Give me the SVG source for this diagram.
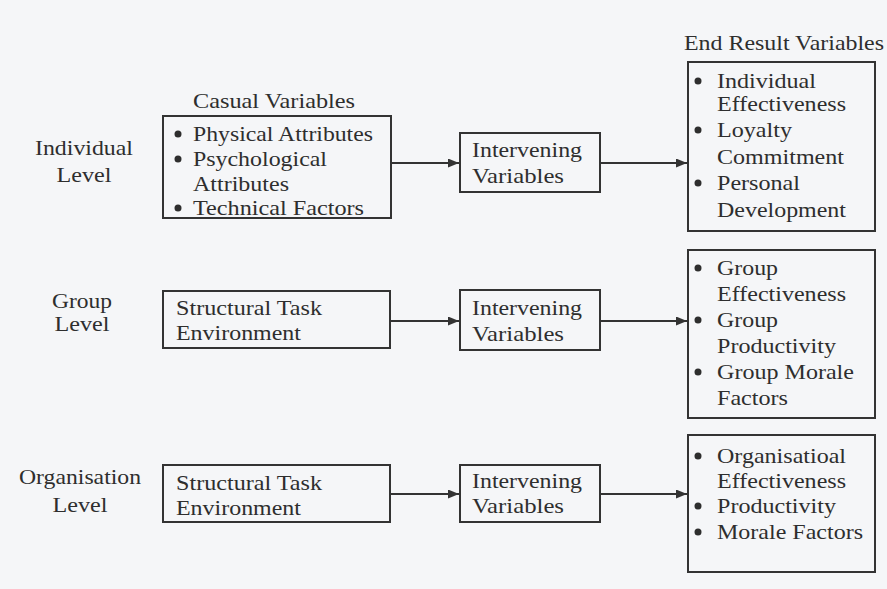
<svg xmlns="http://www.w3.org/2000/svg" width="887" height="589" viewBox="0 0 887 589">
<style>
.t{font-family:"Liberation Serif","Times New Roman",serif;font-size:21.5px;fill:#2e2e2e}
.m{text-anchor:middle}
.box{fill:none;stroke:#333;stroke-width:2}
.ln{stroke:#333;stroke-width:2;fill:none}
.b{fill:#2e2e2e}
</style>
<defs>
<marker id="ah" markerUnits="userSpaceOnUse" markerWidth="12" markerHeight="10" refX="11" refY="4.5" orient="auto">
<path d="M0,0 L11,4.5 L0,9 z" fill="#333"/>
</marker>
</defs>
<rect x="0" y="0" width="887" height="589" fill="#f5f6f8"/>

<g id="labels">
<text class="t m" x="84" y="155" textLength="98" lengthAdjust="spacingAndGlyphs">Individual</text>
<text class="t m" x="84" y="182" textLength="55" lengthAdjust="spacingAndGlyphs">Level</text>
<text class="t m" x="82" y="308" textLength="60" lengthAdjust="spacingAndGlyphs">Group</text>
<text class="t m" x="82" y="331" textLength="55" lengthAdjust="spacingAndGlyphs">Level</text>
<text class="t m" x="80" y="484" textLength="122" lengthAdjust="spacingAndGlyphs">Organisation</text>
<text class="t m" x="80" y="512" textLength="55" lengthAdjust="spacingAndGlyphs">Level</text>
<text class="t m" x="274" y="108" textLength="162" lengthAdjust="spacingAndGlyphs">Casual Variables</text>
<text class="t m" x="784" y="50" textLength="200" lengthAdjust="spacingAndGlyphs">End Result Variables</text>
</g>

<g id="casual1">
<rect class="box" x="163" y="116" width="228" height="102"/>
<circle class="b" cx="178" cy="134" r="3.5"/>
<text class="t" x="193" y="141" textLength="180" lengthAdjust="spacingAndGlyphs">Physical Attributes</text>
<circle class="b" cx="178" cy="159" r="3.5"/>
<text class="t" x="193" y="166" textLength="134" lengthAdjust="spacingAndGlyphs">Psychological</text>
<text class="t" x="193" y="191" textLength="96" lengthAdjust="spacingAndGlyphs">Attributes</text>
<circle class="b" cx="178" cy="208" r="3.5"/>
<text class="t" x="193" y="215" textLength="171" lengthAdjust="spacingAndGlyphs">Technical Factors</text>
</g>

<g id="interv1">
<rect class="box" x="460" y="133" width="140" height="59"/>
<text class="t" x="472" y="157" textLength="110" lengthAdjust="spacingAndGlyphs">Intervening</text>
<text class="t" x="472" y="183" textLength="92" lengthAdjust="spacingAndGlyphs">Variables</text>
</g>

<g id="end1">
<rect class="box" x="688" y="62" width="187" height="169"/>
<circle class="b" cx="698" cy="81" r="3.5"/>
<text class="t" x="717" y="88" textLength="99" lengthAdjust="spacingAndGlyphs">Individual</text>
<text class="t" x="717" y="111" textLength="129" lengthAdjust="spacingAndGlyphs">Effectiveness</text>
<circle class="b" cx="698" cy="130" r="3.5"/>
<text class="t" x="717" y="137" textLength="75" lengthAdjust="spacingAndGlyphs">Loyalty</text>
<text class="t" x="717" y="164" textLength="127" lengthAdjust="spacingAndGlyphs">Commitment</text>
<circle class="b" cx="698" cy="183" r="3.5"/>
<text class="t" x="717" y="190" textLength="83" lengthAdjust="spacingAndGlyphs">Personal</text>
<text class="t" x="717" y="217" textLength="129" lengthAdjust="spacingAndGlyphs">Development</text>
</g>

<g id="struct2">
<rect class="box" x="163" y="291" width="227" height="57"/>
<text class="t" x="176" y="315" textLength="146" lengthAdjust="spacingAndGlyphs">Structural Task</text>
<text class="t" x="176" y="340" textLength="125" lengthAdjust="spacingAndGlyphs">Environment</text>
</g>

<g id="interv2">
<rect class="box" x="460" y="290" width="140" height="60"/>
<text class="t" x="472" y="315" textLength="110" lengthAdjust="spacingAndGlyphs">Intervening</text>
<text class="t" x="472" y="341" textLength="92" lengthAdjust="spacingAndGlyphs">Variables</text>
</g>

<g id="end2">
<rect class="box" x="688" y="250" width="187" height="168"/>
<circle class="b" cx="698" cy="268" r="3.5"/>
<text class="t" x="717" y="275" textLength="61" lengthAdjust="spacingAndGlyphs">Group</text>
<text class="t" x="717" y="301" textLength="129" lengthAdjust="spacingAndGlyphs">Effectiveness</text>
<circle class="b" cx="698" cy="320" r="3.5"/>
<text class="t" x="717" y="327" textLength="61" lengthAdjust="spacingAndGlyphs">Group</text>
<text class="t" x="717" y="353" textLength="119" lengthAdjust="spacingAndGlyphs">Productivity</text>
<circle class="b" cx="698" cy="372" r="3.5"/>
<text class="t" x="717" y="379" textLength="137" lengthAdjust="spacingAndGlyphs">Group Morale</text>
<text class="t" x="717" y="405" textLength="71" lengthAdjust="spacingAndGlyphs">Factors</text>
</g>

<g id="struct3">
<rect class="box" x="163" y="465" width="227" height="57"/>
<text class="t" x="176" y="490" textLength="146" lengthAdjust="spacingAndGlyphs">Structural Task</text>
<text class="t" x="176" y="515" textLength="125" lengthAdjust="spacingAndGlyphs">Environment</text>
</g>

<g id="interv3">
<rect class="box" x="460" y="465" width="140" height="57"/>
<text class="t" x="472" y="488" textLength="110" lengthAdjust="spacingAndGlyphs">Intervening</text>
<text class="t" x="472" y="513" textLength="92" lengthAdjust="spacingAndGlyphs">Variables</text>
</g>

<g id="end3">
<rect class="box" x="688" y="435" width="187" height="137"/>
<circle class="b" cx="698" cy="456" r="3.5"/>
<text class="t" x="717" y="463" textLength="129" lengthAdjust="spacingAndGlyphs">Organisatioal</text>
<text class="t" x="717" y="488" textLength="129" lengthAdjust="spacingAndGlyphs">Effectiveness</text>
<circle class="b" cx="698" cy="506" r="3.5"/>
<text class="t" x="717" y="513" textLength="119" lengthAdjust="spacingAndGlyphs">Productivity</text>
<circle class="b" cx="698" cy="532" r="3.5"/>
<text class="t" x="717" y="539" textLength="146" lengthAdjust="spacingAndGlyphs">Morale Factors</text>
</g>

<g id="connectors">
<line class="ln" x1="391" y1="163" x2="459" y2="163" marker-end="url(#ah)"/>
<line class="ln" x1="600" y1="163" x2="687" y2="163" marker-end="url(#ah)"/>
<line class="ln" x1="390" y1="321" x2="459" y2="321" marker-end="url(#ah)"/>
<line class="ln" x1="600" y1="321" x2="687" y2="321" marker-end="url(#ah)"/>
<line class="ln" x1="390" y1="494" x2="459" y2="494" marker-end="url(#ah)"/>
<line class="ln" x1="600" y1="494" x2="687" y2="494" marker-end="url(#ah)"/>
</g>
</svg>
